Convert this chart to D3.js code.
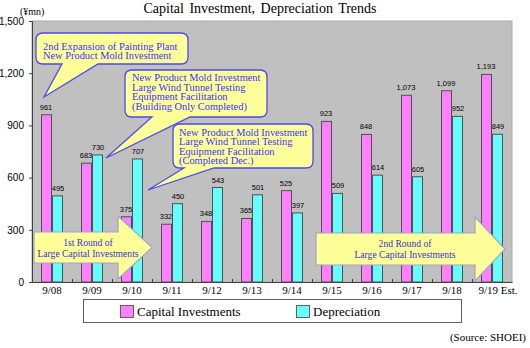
<!DOCTYPE html>
<html><head><meta charset="utf-8">
<script src="https://cdn.jsdelivr.net/npm/d3@7"></script>
<style>
html,body{margin:0;padding:0;background:#fff;}
svg{display:block;}
</style></head>
<body>
<svg id="chart" width="530" height="348"></svg>
<script>
const categories = ["9/08","9/09","9/10","9/11","9/12","9/13","9/14","9/15","9/16","9/17","9/18","9/19 Est."];
const capitalInvestments = [961,683,375,332,348,365,525,923,848,1073,1099,1193];
const depreciation = [495,730,707,450,543,501,397,509,614,605,952,849];
const yTicks = [0,300,600,900,1200,1500];
const seriesNames = ["Capital Investments","Depreciation"];
const title = "Capital Investment, Depreciation Trends";
const unitLabel = "(¥mn)";
const sourceLabel = "(Source: SHOEI)";
const callouts = [
  ["2nd Expansion of Painting Plant","New Product Mold Investment"],
  ["New Product Mold Investment","Large Wind Tunnel Testing","Equipment Facilitation","(Building Only Completed)"],
  ["New Product Mold Investment","Large Wind Tunnel Testing","Equipment Facilitation","(Completed Dec.)"]
];
const arrowTexts = [["1st Round of","Large Capital Investments"],["2nd Round of","Large Capital Investments"]];

const serif = "'Liberation Serif','Times New Roman',serif";
const sans = "'Liberation Sans',Arial,sans-serif";
const colCI = "#ff80ff", colDep = "#66ffff";

const svg = d3.select("#chart");
const L = 32, R = 512, T = 21, B = 282;
const x = d3.scaleBand().domain(categories).range([L, R]).padding(0);
const y = d3.scaleLinear().domain([0, 1500]).range([B, T]);

// title
svg.append("text").attr("x", 260).attr("y", 13).attr("text-anchor", "middle")
  .attr("font-family", serif).attr("font-size", 14).attr("word-spacing", 2).text(title);
svg.append("text").attr("x", 20).attr("y", 15).attr("font-family", serif)
  .attr("font-size", 10).text(unitLabel);

// plot bg
svg.append("rect").attr("x", L).attr("y", T).attr("width", R - L).attr("height", B - T)
  .attr("fill", "#c0c0c0").attr("stroke", "#a8a8a8").attr("stroke-width", 1);

// y axis
const yAxis = svg.append("g").attr("transform", `translate(${L},0)`)
  .call(d3.axisLeft(y).tickValues(yTicks).tickFormat(d3.format(",")).tickSize(3).tickPadding(5));
yAxis.select(".domain").attr("stroke", "#404040");
yAxis.selectAll(".tick line").attr("stroke", "#404040");
yAxis.selectAll("text").attr("font-family", sans).attr("font-size", 10).attr("fill", "#000");

// x axis
const xAxis = svg.append("g").attr("transform", `translate(0,${B})`)
  .call(d3.axisBottom(x).tickSize(0).tickPadding(4));
xAxis.select(".domain").attr("stroke", "#404040");
xAxis.selectAll("text").attr("font-family", serif).attr("font-size", 11).attr("fill", "#000");
xAxis.selectAll(".tick").filter(d => d === "9/19 Est.").select("text").attr("dx", 6);

// inner boundary ticks
svg.append("g").selectAll("line").data(categories.slice(1)).join("line")
  .attr("x1", d => x(d) + 0.5).attr("x2", d => x(d) + 0.5)
  .attr("y1", B).attr("y2", B - 3).attr("stroke", "#404040");

// bars
const bw = 10;
const gBars = svg.append("g").attr("stroke", "#505050").attr("stroke-width", 1);
gBars.selectAll("rect.ci").data(capitalInvestments).join("rect").attr("class", "ci")
  .attr("x", (d, i) => x(categories[i]) + x.bandwidth() / 2 - bw - 0.5)
  .attr("y", d => y(d)).attr("width", bw).attr("height", d => B - y(d)).attr("fill", colCI);
gBars.selectAll("rect.dep").data(depreciation).join("rect").attr("class", "dep")
  .attr("x", (d, i) => x(categories[i]) + x.bandwidth() / 2 + 0.5)
  .attr("y", d => y(d)).attr("width", bw).attr("height", d => B - y(d)).attr("fill", colDep);

// value labels
const fmt = d3.format(",");
const gLab = svg.append("g").attr("font-family", sans).attr("font-size", 7.5).attr("text-anchor", "middle");
gLab.selectAll("text.ci").data(capitalInvestments).join("text").attr("class", "ci")
  .attr("x", (d, i) => x(categories[i]) + x.bandwidth() / 2 - bw / 2 - 1)
  .attr("y", d => y(d) - 5).text(d => fmt(d));
gLab.selectAll("text.dep").data(depreciation).join("text").attr("class", "dep")
  .attr("x", (d, i) => x(categories[i]) + x.bandwidth() / 2 + bw / 2 + 1)
  .attr("y", d => y(d) - 5).text(d => fmt(d));

// callouts
function calloutPath(x0, y0, x1, y1, r, p1, p2, tx, ty) {
  return `M${x0 + r},${y0} H${x1 - r} Q${x1},${y0} ${x1},${y0 + r} V${y1 - r} Q${x1},${y1} ${x1 - r},${y1}` +
    ` H${p2} L${tx},${ty} L${p1},${y1} H${x0 + r} Q${x0},${y1} ${x0},${y1 - r} V${y0 + r} Q${x0},${y0} ${x0 + r},${y0} Z`;
}
const calloutGeom = [
  {x0: 36, y0: 33, x1: 188, y1: 64, p1: 62, p2: 98, tx: 44, ty: 97, tx0: 43, by: [49.5, 59]},
  {x0: 125, y0: 70, x1: 267, y1: 117, p1: 152, p2: 190, tx: 106, ty: 158, tx0: 132, by: [81, 90.5, 100, 109.5]},
  {x0: 173, y0: 124, x1: 313, y1: 168, p1: 184, p2: 214, tx: 148, ty: 190, tx0: 179, by: [135.5, 145, 154.5, 164]}
];
calloutGeom.forEach((g, i) => {
  svg.append("path").attr("d", calloutPath(g.x0, g.y0, g.x1, g.y1, 7, g.p1, g.p2, g.tx, g.ty))
    .attr("fill", "#ffff99").attr("stroke", "#4a4aee").attr("stroke-width", 1.3);
  svg.append("g").selectAll("text").data(callouts[i]).join("text")
    .attr("x", g.tx0).attr("y", (d, j) => g.by[j])
    .attr("font-family", serif).attr("font-size", 10.4).attr("fill", "#3333ff").text(d => d);
});

// big arrows
const arrowGeom = [
  {x0: 34, y0: 232, x1: 118, y1: 263, ht: 216, hb: 279, tip: 152, cx: 88, by: [246, 257]},
  {x0: 316, y0: 233, x1: 475, y1: 265, ht: 217, hb: 281, tip: 505, cx: 405, by: [247, 258]}
];
arrowGeom.forEach((a, i) => {
  const my = (a.ht + a.hb) / 2;
  svg.append("path")
    .attr("d", `M${a.x0},${a.y0} H${a.x1} V${a.ht} L${a.tip},${my} L${a.x1},${a.hb} V${a.y1} H${a.x0} Z`)
    .attr("fill", "#ffff99").attr("stroke", "#9aa6cc").attr("stroke-width", 1.2);
  svg.append("g").selectAll("text").data(arrowTexts[i]).join("text")
    .attr("x", a.cx).attr("y", (d, j) => a.by[j]).attr("text-anchor", "middle")
    .attr("font-family", serif).attr("font-size", 9.6).attr("fill", "#3333cc").text(d => d);
});

// legend
const lg = svg.append("g");
lg.append("rect").attr("x", 83.5).attr("y", 299.5).attr("width", 378).attr("height", 23)
  .attr("fill", "#fff").attr("stroke", "#606060");
const legX = [120, 296];
[colCI, colDep].forEach((c, i) => {
  lg.append("rect").attr("x", legX[i] + 0.5).attr("y", 305.5).attr("width", 13).attr("height", 12)
    .attr("fill", c).attr("stroke", "#606060");
  lg.append("text").attr("x", legX[i] + 17).attr("y", 315.5).attr("font-family", serif)
    .attr("font-size", 13).text(seriesNames[i]);
});

svg.append("text").attr("x", 526).attr("y", 341).attr("text-anchor", "end")
  .attr("font-family", serif).attr("font-size", 11).text(sourceLabel);
</script>
</body></html>
